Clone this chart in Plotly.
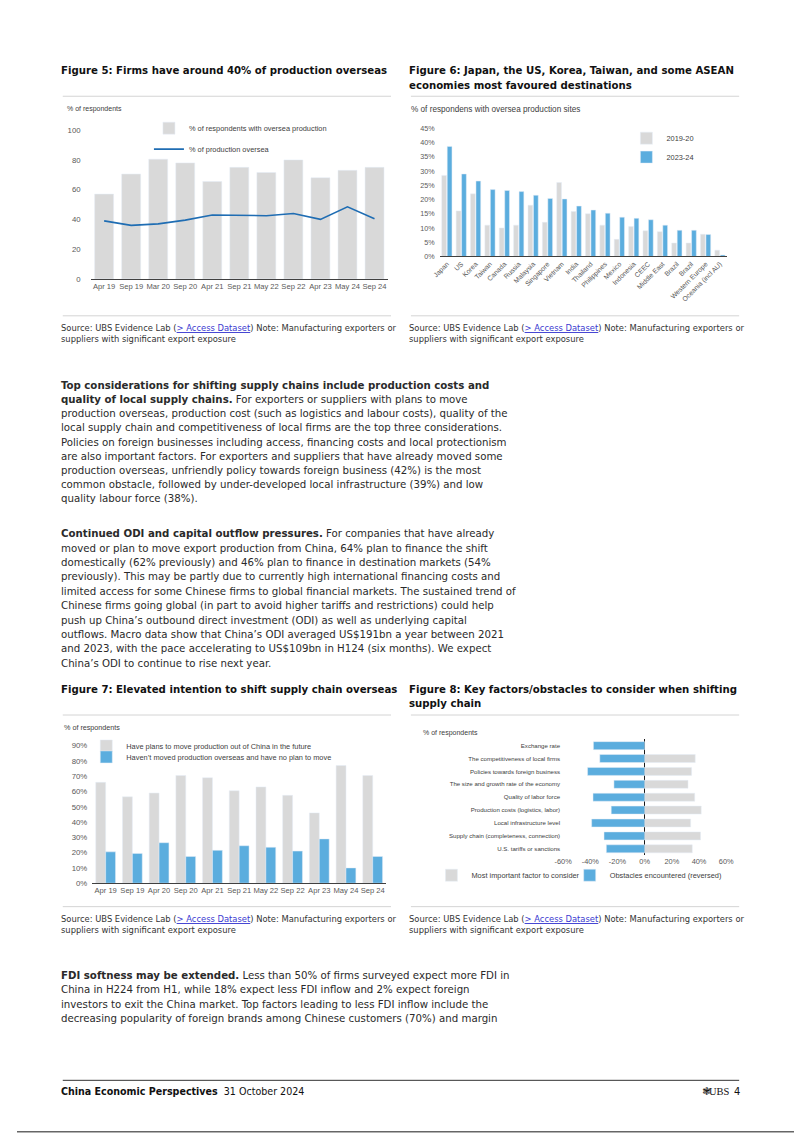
import plotly.graph_objects as go

W, H = 802, 1134
# empirical correction between figure pixels and the photographed page
AX, BX = 15.0, 0.984
AY, BY = 11.6, 0.994


def px(x):
    return (x - AX) / BX / W


def py(y):
    return 1 - (y - AY) / BY / H


# ---------------- data ----------------
f5_dates = ["Apr 19", "Sep 19", "Mar 20", "Sep 20", "Apr 21", "Sep 21", "May 22", "Sep 22", "Apr 23", "May 24", "Sep 24"]
f5_with_oversea = [57, 70.5, 80.5, 78, 65.5, 75, 71.5, 80, 68, 73, 75]
f5_prod_oversea = [39, 36, 37, 39.5, 43, 42.5, 42.5, 44, 40, 48.5, 40.5]

f6_countries = ["Japan", "US", "Korea", "Taiwan", "Canada", "Russia", "Malaysia", "Singapore", "Vietnam", "India",
                "Thailand", "Philippines", "Mexico", "Indonesia", "CEEC", "Middle East", "Brazil", "Brazil",
                "Western Europe", "Oceania (incl AU)"]
f6_2019_20 = [28.5, 16, 22, 11, 10, 11, 18, 12, 26, 15.8, 15, 11, 6, 10.5, 9, 8.7, 4.7, 4.7, 7.8, 2.2]
f6_2023_24 = [38.7, 29, 26.5, 23.5, 23.2, 22.8, 21.5, 20.4, 20.2, 17.7, 16.3, 15.2, 13.8, 13.4, 12.9, 11, 9.2, 9.2, 7.7, 0.5]

f7_dates = ["Apr 19", "Sep 19", "Apr 20", "Sep 20", "Apr 21", "Sep 21", "May 22", "Sep 22", "Apr 23", "May 24", "Sep 24"]
f7_plans = [66, 56.5, 59, 70.5, 69, 60.5, 63, 57.5, 46, 77, 70.5]
f7_no_plan = [20.5, 19.5, 26.5, 17.5, 21.5, 24.5, 23.5, 21, 29, 10, 17.5]

f8_factors = ["Exchange rate", "The competitiveness of local firms", "Policies towards foreign business",
              "The size and growth rate of the economy", "Quality of labor force",
              "Production costs (logistics, labor)", "Local infrastructure level",
              "Supply chain (completeness, connection)", "U.S. tariffs or sanctions"]
f8_important = [None, 37.2, 34.5, 31.9, 36.8, 41.6, 33.8, 41.1, 35]
f8_obstacles = [-37.7, -33, -42, -22.6, -38, -24.6, -39, -29.9, -28.2]
f8_ticks = [-60, -40, -20, 0, 20, 40, 60]
f8_ticktext = ["%d%%" % v for v in f8_ticks]

# ---------------- styles ----------------
TXT = "Liberation Sans Narrow, Arial Narrow, DejaVu Sans Condensed, sans-serif"
CHT = "Liberation Sans, Arial, sans-serif"
GRAY = "#d9d9d9"
BLUE = "#5badde"
DBLUE = "#1f6db3"
TICK = "#595959"
AXL = "#404040"

fig = go.Figure()

# Figure 5
fig.add_trace(go.Bar(x=f5_dates, y=f5_with_oversea, marker_color=GRAY, width=0.7, offset=-0.35,
                     name="% of respondents with oversea production", xaxis="x", yaxis="y", legend="legend"))
fig.add_trace(go.Scatter(x=f5_dates, y=f5_prod_oversea, mode="lines", line=dict(color=DBLUE, width=1.6),
                         name="% of production oversea", xaxis="x", yaxis="y", legend="legend2"))

# Figure 6
idx6 = list(range(len(f6_countries)))
fig.add_trace(go.Bar(x=idx6, y=f6_2019_20, marker_color=GRAY, width=0.33, offset=-0.36,
                     name="2019-20", xaxis="x2", yaxis="y2", legend="legend3"))
fig.add_trace(go.Bar(x=idx6, y=f6_2023_24, marker_color=BLUE, width=0.33, offset=0.02,
                     name="2023-24", xaxis="x2", yaxis="y2", legend="legend4"))

# Figure 7
fig.add_trace(go.Bar(x=f7_dates, y=f7_plans, marker_color=GRAY, width=0.37, offset=-0.37,
                     name="Have plans to move production out of China in the future",
                     xaxis="x3", yaxis="y3", legend="legend5"))
fig.add_trace(go.Bar(x=f7_dates, y=f7_no_plan, marker_color=BLUE, width=0.37, offset=0.0,
                     name="Haven\u2019t moved production overseas and have no plan to move",
                     xaxis="x3", yaxis="y3", legend="legend6"))

# Figure 8
fig.add_trace(go.Bar(y=f8_factors, x=f8_important, orientation="h", marker_color=GRAY, width=0.62, offset=-0.31,
                     name="Most important factor to consider", xaxis="x4", yaxis="y4", legend="legend7"))
fig.add_trace(go.Bar(y=f8_factors, x=f8_obstacles, orientation="h", marker_color=BLUE, width=0.62, offset=-0.31,
                     name="Obstacles encountered (reversed)", xaxis="x4", yaxis="y4", legend="legend8"))

tfx = dict(family=CHT, size=7.6, color=TICK)
tfy = dict(family=CHT, size=7.8, color=TICK)

layout = dict(
    width=W, height=H, margin=dict(l=0, r=0, t=0, b=0), showlegend=True,
    paper_bgcolor="white", plot_bgcolor="rgba(0,0,0,0)",
    barmode="overlay", font=dict(family=CHT, color="#222"),
    xaxis=dict(domain=[px(89), px(388)], anchor="y", showline=True, linecolor=AXL, linewidth=1,
               ticks="", showgrid=False, tickfont=tfx, range=[-0.5, 10.5]),
    yaxis=dict(domain=[py(279), py(130)], anchor="x", range=[0, 100], dtick=20, showgrid=False,
               zeroline=False, ticks="", tickfont=tfy, ticklabelstandoff=9),
    xaxis2=dict(domain=[px(440), px(729)], anchor="y2", showline=True, linecolor=AXL, linewidth=1.2,
                ticks="", showgrid=False, tickfont=dict(family=CHT, size=6.8, color=TICK), range=[-0.5, 19.5],
                tickvals=idx6, ticktext=f6_countries, tickangle=-45),
    yaxis2=dict(domain=[py(256.5), py(128.3)], anchor="x2", range=[0, 45], dtick=5, ticksuffix="%",
                showgrid=False, zeroline=False, ticks="", tickfont=dict(family=CHT, size=7.2, color=TICK),
                ticklabelstandoff=4),
    xaxis3=dict(domain=[px(90.7), px(386)], anchor="y3", showline=True, linecolor=AXL, linewidth=1.2,
                ticks="", showgrid=False, tickfont=tfx, range=[-0.5, 10.5]),
    yaxis3=dict(domain=[py(884.5), py(746.7)], anchor="x3", range=[0, 90], dtick=10, ticksuffix="%",
                showgrid=False, zeroline=False, ticks="", tickfont=tfy, ticklabelstandoff=4),
    xaxis4=dict(domain=[px(564), px(728)], anchor="y4", range=[-60, 60], tickmode="array",
                tickvals=f8_ticks, ticktext=f8_ticktext,
                showgrid=False, zeroline=True, zerolinecolor="#1a1a1a", zerolinewidth=1.2,
                ticks="", tickfont=dict(family=CHT, size=7.4, color=TICK), showline=False),
    yaxis4=dict(domain=[py(856.5), py(740.2)], anchor="x4", categoryorder="array", categoryarray=f8_factors,
                autorange="reversed", showgrid=False, ticks="", showline=False,
                tickfont=dict(family=CHT, size=6.1, color="#404040"), ticklabelstandoff=2),
)

lf = dict(family=CHT, size=7.4, color="#404040")


def leg(xtext, ytext):
    return dict(x=px(xtext) - 40.0 / W, y=py(ytext), xanchor="left", yanchor="middle",
                bgcolor="rgba(0,0,0,0)", font=lf, borderwidth=0, visible=True)


layout["legend"] = leg(187, 128)
layout["legend2"] = leg(187, 149)
layout["legend3"] = leg(667, 138)
layout["legend4"] = leg(667, 157)
layout["legend5"] = leg(124, 747)
layout["legend6"] = leg(124, 758)
layout["legend7"] = leg(471, 876.5)
layout["legend8"] = leg(610, 876.5)

fig.update_layout(**layout)

ann = []


def txt(x, y, s, size, color="#2a2a2a", family=TXT, anchor="left"):
    shift = -2.5 if anchor == "left" else 2.0
    ann.append(dict(x=px(x + shift), y=py(y), xref="paper", yref="paper", text=s, showarrow=False,
                    xanchor=anchor, yanchor="middle", font=dict(size=size, color=color, family=family),
                    borderpad=0))


TITLE = 11.3
BODY = 11.35

# Titles
txt(61, 70, "<b>Figure 5: Firms have around 40% of production overseas</b>", TITLE, "#111")
txt(411, 70, "<b>Figure 6: Japan, the US, Korea, Taiwan, and some ASEAN</b>", TITLE, "#111")
txt(411, 85, "<b>economies most favoured destinations</b>", TITLE, "#111")
txt(61, 690, "<b>Figure 7: Elevated intention to shift supply chain overseas</b>", TITLE, "#111")
txt(411, 690, "<b>Figure 8: Key factors/obstacles to consider when shifting</b>", TITLE, "#111")
txt(411, 704, "<b>supply chain</b>", TITLE, "#111")

# Axis captions
txt(67, 109, "% of respondents", 7, "#404040", CHT)
txt(413, 109, "% of respondens with oversea production sites", 8.2, "#404040", CHT)
txt(64, 728, "% of respondents", 7.2, "#404040", CHT)
txt(425, 734, "% of respondents", 7, "#404040", CHT)

# Sources
src1 = ("Source: UBS Evidence Lab (<span style='color:#3a3ad0;text-decoration:underline'>&gt; Access Dataset</span>)"
        " Note: Manufacturing exporters or")
src2 = "suppliers with significant export exposure"
for (x0, y0) in [(61, 328), (411, 328), (61, 920), (411, 920)]:
    txt(x0, y0, src1, 9.3, "#333")
    txt(x0, y0 + 11, src2, 9.3, "#333")

# Paragraphs
p1 = [
    "<b>Top considerations for shifting supply chains include production costs and</b>",
    "<b>quality of local supply chains.</b> For exporters or suppliers with plans to move",
    "production overseas, production cost (such as logistics and labour costs), quality of the",
    "local supply chain and competitiveness of local firms are the top three considerations.",
    "Policies on foreign businesses including access, financing costs and local protectionism",
    "are also important factors. For exporters and suppliers that have already moved some",
    "production overseas, unfriendly policy towards foreign business (42%) is the most",
    "common obstacle, followed by under-developed local infrastructure (39%) and low",
    "quality labour force (38%).",
]
p2 = [
    "<b>Continued ODI and capital outflow pressures.</b> For companies that have already",
    "moved or plan to move export production from China, 64% plan to finance the shift",
    "domestically (62% previously) and 46% plan to finance in destination markets (54%",
    "previously). This may be partly due to currently high international financing costs and",
    "limited access for some Chinese firms to global financial markets. The sustained trend of",
    "Chinese firms going global (in part to avoid higher tariffs and restrictions) could help",
    "push up China\u2019s outbound direct investment (ODI) as well as underlying capital",
    "outflows. Macro data show that China\u2019s ODI averaged US$191bn a year between 2021",
    "and 2023, with the pace accelerating to US$109bn in H124 (six months). We expect",
    "China\u2019s ODI to continue to rise next year.",
]
p3 = [
    "<b>FDI softness may be extended.</b> Less than 50% of firms surveyed expect more FDI in",
    "China in H224 from H1, while 18% expect less FDI inflow and 2% expect foreign",
    "investors to exit the China market. Top factors leading to less FDI inflow include the",
    "decreasing popularity of foreign brands among Chinese customers (70%) and margin",
]
for i, s in enumerate(p1):
    txt(61, 385 + i * 14.25, s, BODY)
for i, s in enumerate(p2):
    txt(61, 534 + i * 14.4, s, BODY)
for i, s in enumerate(p3):
    txt(61, 976 + i * 14.6, s, BODY)

# Footer
txt(61, 1093, "<b>China Economic Perspectives</b>  31 October 2024", 10.6, "#111")
txt(741, 1093, "4", 11, "#111", anchor="right")
txt(731, 1093, "UBS", 10.5, "#111", "Liberation Serif, Times New Roman, serif", anchor="right")
txt(712, 1093, "\u2743", 10.5, "#111", "DejaVu Sans", anchor="right")

fig.update_layout(annotations=ann)

# separator lines
shapes = []


def hline(x0, x1, y, color="#d4d4d4", w=1):
    shapes.append(dict(type="line", xref="paper", yref="paper", x0=px(x0), x1=px(x1), y0=py(y), y1=py(y),
                       line=dict(color=color, width=w)))


for (a, b) in [(61, 391), (411, 741)]:
    hline(a, b, 96)
    hline(a, b, 316)
    hline(a, b, 716)
    hline(a, b, 908)
hline(61, 741, 1082, "#333", 1)
hline(15, 802, 1133.5, "#666", 1.5)
fig.update_layout(shapes=shapes)

fig.write_html("out.html")
